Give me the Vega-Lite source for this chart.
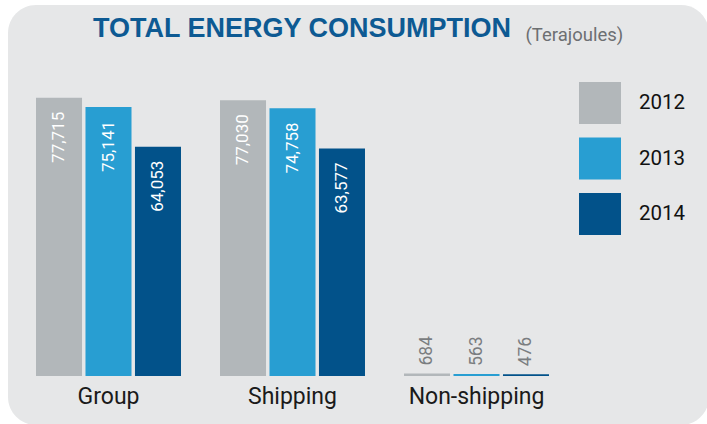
{
  "$schema": "https://vega.github.io/schema/vega-lite/v6.json",
  "width": 701,
  "height": 420,
  "padding": {"left": 8, "top": 5, "right": 0, "bottom": 0},
  "autosize": {"type": "pad"},
  "background": "white",
  "title": {
    "text": "TOTAL ENERGY CONSUMPTION",
    "anchor": "start",
    "frame": "group",
    "dx": 85,
    "offset": -59,
    "baseline": "alphabetic",
    "font": "Liberation Sans",
    "fontSize": 27,
    "fontWeight": "bold",
    "color": "#0d5a93"
  },
  "config": {
    "view": {"fill": "#e6e7e8", "stroke": null, "cornerRadius": 28},
    "font": "Roboto"
  },
  "data": {
    "values": [
      {"category": "Group", "year": "2012", "value": 77715},
      {"category": "Group", "year": "2013", "value": 75141},
      {"category": "Group", "year": "2014", "value": 64053},
      {"category": "Shipping", "year": "2012", "value": 77030},
      {"category": "Shipping", "year": "2013", "value": 74758},
      {"category": "Shipping", "year": "2014", "value": 63577},
      {"category": "Non-shipping", "year": "2012", "value": 684},
      {"category": "Non-shipping", "year": "2013", "value": 563},
      {"category": "Non-shipping", "year": "2014", "value": 476}
    ]
  },
  "encoding": {
    "x": {
      "field": "category",
      "type": "nominal",
      "sort": ["Group", "Shipping", "Non-shipping"],
      "scale": {"range": [8.5, 560.5], "paddingInner": 0.212, "paddingOuter": 0.106},
      "axis": {
        "title": null,
        "labelAngle": 0,
        "domain": false,
        "ticks": false,
        "grid": false,
        "labelFont": "Roboto",
        "labelFontSize": 23,
        "labelColor": "#1a1a1a",
        "labelPadding": 2,
        "offset": -42
      }
    },
    "xOffset": {
      "field": "year",
      "type": "nominal",
      "scale": {"paddingInner": 0.07, "paddingOuter": 0}
    },
    "y": {
      "field": "value",
      "type": "quantitative",
      "stack": null,
      "scale": {"domain": [-13687, 103631], "nice": false, "zero": false},
      "axis": {
        "title": "(Terajoules)",
        "grid": false,
        "domain": false,
        "ticks": false,
        "labels": false,
        "titleAngle": 0,
        "titleX": 517,
        "titleY": 35,
        "titleAlign": "left",
        "titleBaseline": "alphabetic",
        "titleFont": "Roboto",
        "titleFontSize": 18.5,
        "titleFontWeight": "normal",
        "titleColor": "#6d6f72"
      }
    }
  },
  "layer": [
    {
      "mark": {"type": "bar"},
      "encoding": {
        "color": {
          "field": "year",
          "type": "nominal",
          "scale": {"domain": ["2012", "2013", "2014"], "range": ["#b2b7ba", "#289ed2", "#02528a"]},
          "legend": {
            "orient": "none",
            "legendX": 571,
            "legendY": 77,
            "title": null,
            "symbolType": "square",
            "symbolSize": 1764,
            "symbolStrokeWidth": 0,
            "symbolOpacity": 1,
            "labelFont": "Roboto",
            "labelFontSize": 20.5,
            "labelColor": "#111111",
            "labelOffset": 18,
            "rowPadding": 13.5
          }
        }
      }
    },
    {
      "transform": [{"filter": "datum.value >= 10000"}],
      "mark": {"type": "text", "angle": 270, "align": "right", "baseline": "middle", "dx": -14, "fontSize": 17, "color": "white", "font": "Roboto"},
      "encoding": {"text": {"field": "value", "type": "quantitative", "format": ","}}
    },
    {
      "transform": [{"filter": "datum.value < 10000"}],
      "mark": {"type": "text", "angle": 270, "align": "left", "baseline": "middle", "dx": 8, "fontSize": 17.5, "color": "#7a7d80", "font": "Roboto"},
      "encoding": {"text": {"field": "value", "type": "quantitative", "format": ","}}
    }
  ]
}
